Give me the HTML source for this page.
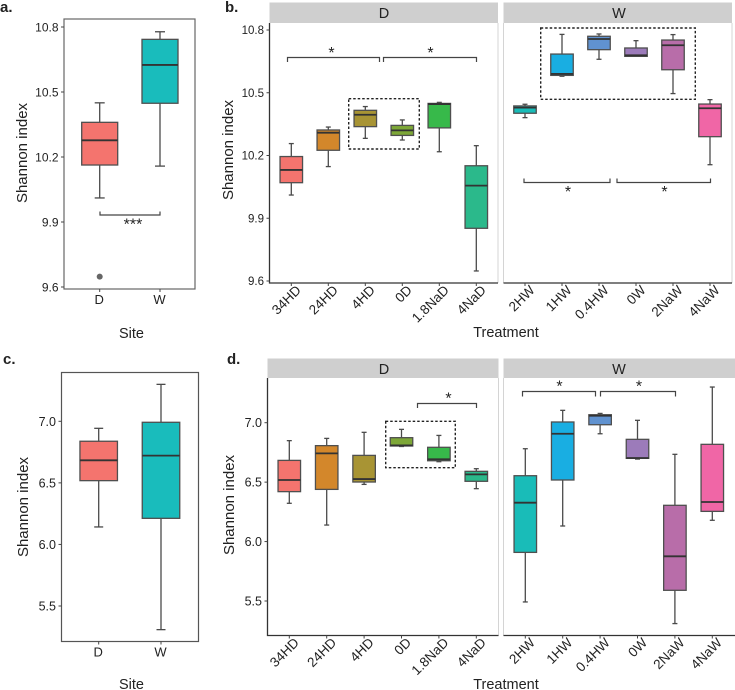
<!DOCTYPE html>
<html lang="en">
<head>
<meta charset="utf-8">
<title>Shannon index boxplots</title>
<style>
html,body{margin:0;padding:0;background:#fff;width:735px;height:690px;overflow:hidden}
svg{display:block;font-family:"Liberation Sans",Arial,sans-serif}
text{fill:#222}
</style>
</head>
<body>
<svg id="fig" width="735" height="690" viewBox="0 0 735 690" xmlns="http://www.w3.org/2000/svg">
  <rect x="0" y="0" width="735" height="690" fill="#fff"/>
  <!-- panel letters -->
  <text x="0" y="12" font-size="15" font-weight="bold" fill="#111">a.</text>
  <text x="225" y="12" font-size="15" font-weight="bold" fill="#111">b.</text>
  <text x="3" y="364" font-size="15" font-weight="bold" fill="#111">c.</text>
  <text x="227" y="364" font-size="15" font-weight="bold" fill="#111">d.</text>

  <!-- frames -->
  <rect x="64" y="19" width="131" height="270" fill="none" stroke="#666" stroke-width="1.2"/>
  <rect x="61.5" y="372.5" width="137" height="269" fill="none" stroke="#555" stroke-width="1.2"/>

  <!-- strips -->
  <rect x="269.5" y="2.5" width="228.5" height="20.5" fill="#cfcfcf"/>
  <rect x="503.5" y="2.5" width="228.5" height="20.5" fill="#cfcfcf"/>
  <rect x="267.5" y="358.5" width="231" height="19.5" fill="#cfcfcf"/>
  <rect x="503.5" y="358.5" width="231.5" height="19.5" fill="#cfcfcf"/>
  <text x="384" y="18" font-size="14.5" text-anchor="middle">D</text>
  <text x="619" y="18" font-size="14.5" text-anchor="middle">W</text>
  <text x="384" y="374" font-size="14.5" text-anchor="middle">D</text>
  <text x="619" y="374" font-size="14.5" text-anchor="middle">W</text>

  <!-- facet borders and axes -->
  <g fill="none">
    <path d="M498 23V283M503.5 23V283M732 23V283" stroke="#d4d4d4" stroke-width="1"/>
    <path d="M269.5 23V283H498M503.5 283H732" stroke="#333" stroke-width="1.3"/>
  </g>
  <g fill="none">
    <path d="M498.5 378V635.5M503.5 378V635.5" stroke="#d4d4d4" stroke-width="1"/>
    <path d="M267.5 378V635.5H498.5M503.5 635.5H735" stroke="#333" stroke-width="1.3"/>
  </g>

  <g id="marks"></g>

  <!-- axis titles -->
  <text transform="translate(27,153) rotate(-90)" font-size="15" text-anchor="middle">Shannon index</text>
  <text transform="translate(233,150) rotate(-90)" font-size="15" text-anchor="middle">Shannon index</text>
  <text transform="translate(28,507) rotate(-90)" font-size="15" text-anchor="middle">Shannon index</text>
  <text transform="translate(234,505) rotate(-90)" font-size="15" text-anchor="middle">Shannon index</text>
  <text x="131.5" y="338" font-size="14.5" text-anchor="middle">Site</text>
  <text x="131.5" y="689" font-size="14.5" text-anchor="middle">Site</text>
  <text x="506" y="337" font-size="14.5" text-anchor="middle">Treatment</text>
  <text x="506" y="689" font-size="14.5" text-anchor="middle">Treatment</text>

  <!-- significance brackets -->
  <g fill="none" stroke="#444" stroke-width="1.2">
    <path d="M100 211.5V215H160V211.5"/>
    <path d="M287.5 62V57.5H379.5V62"/>
    <path d="M383.5 62V57.5H476.5V62"/>
    <path d="M524 178.5V182.5H610V178.5"/>
    <path d="M617 178.5V182.5H710.5V178.5"/>
    <path d="M417.5 408V403.5H476.5V408"/>
    <path d="M522.5 396.5V391.5H595.5V396.5"/>
    <path d="M600.5 396.5V391.5H675.5V396.5"/>
  </g>
  <g font-size="16" text-anchor="middle" fill="#111">
    <text x="133" y="229.5">***</text>
    <text x="331.5" y="58">*</text>
    <text x="430.5" y="58">*</text>
    <text x="568" y="197">*</text>
    <text x="664.5" y="197">*</text>
    <text x="448.5" y="403.7">*</text>
    <text x="559.5" y="391.4">*</text>
    <text x="639" y="391.4">*</text>
  </g>

  <!-- dashed highlight boxes -->
  <g fill="none" stroke="#222" stroke-width="1.4" stroke-dasharray="2.5 2">
    <rect x="348.7" y="98.7" width="70.6" height="50.3"/>
    <rect x="540.7" y="28" width="154.6" height="71.3"/>
    <rect x="385.7" y="421.3" width="69.6" height="46.4"/>
  </g>
</svg>

<script>
// ---- chart data ----
const siteCategories = ['D', 'W'];
const dryTreatments = ['34HD', '24HD', '4HD', '0D', '1.8NaD', '4NaD'];
const wetTreatments = ['2HW', '1HW', '0.4HW', '0W', '2NaW', '4NaW'];

const ticksBacterial = ['9.6', '9.9', '10.2', '10.5', '10.8'];
const ticksFungal = ['5.5', '6.0', '6.5', '7.0'];

const siteColors = ['#f4746e', '#19bcbc'];
const dryColors = ['#f4746e', '#d3872b', '#a89434', '#7da737', '#37b94a', '#2bb98b'];
const wetColors = ['#19bcb8', '#19aee2', '#6092d0', '#9c7bba', '#b86da9', '#f066a6'];

// panel a
const aLow = [10.011, 10.158];
const aQ1 = [10.163, 10.448];
const aMedian = [10.277, 10.625];
const aQ3 = [10.36, 10.743];
const aHigh = [10.45, 10.778];
const aOutliers = [9.648];

// panel b, D
const bdLow = [10.011, 10.147, 10.282, 10.274, 10.218, 9.648];
const bdQ1 = [10.07, 10.225, 10.338, 10.296, 10.332, 9.852];
const bdMedian = [10.131, 10.309, 10.395, 10.32, 10.446, 10.056];
const bdQ3 = [10.195, 10.322, 10.416, 10.344, 10.449, 10.151];
const bdHigh = [10.257, 10.336, 10.434, 10.37, 10.454, 10.247];

// panel b, W
const bwLow = [10.381, 10.579, 10.66, 10.674, 10.496, 10.156];
const bwQ1 = [10.402, 10.583, 10.706, 10.674, 10.61, 10.29];
const bwMedian = [10.429, 10.59, 10.757, 10.679, 10.727, 10.426];
const bwQ3 = [10.437, 10.685, 10.77, 10.714, 10.752, 10.446];
const bwHigh = [10.445, 10.779, 10.781, 10.749, 10.778, 10.467];

// panel c
const cLow = [6.142, 5.308];
const cQ1 = [6.518, 6.212];
const cMedian = [6.683, 6.721];
const cQ3 = [6.838, 6.992];
const cHigh = [6.943, 7.30];

// panel d, D
const ddLow = [6.322, 6.139, 6.481, 6.80, 6.672, 6.445];
const ddQ1 = [6.42, 6.439, 6.501, 6.804, 6.68, 6.507];
const ddMedian = [6.518, 6.742, 6.526, 6.809, 6.692, 6.565];
const ddQ3 = [6.683, 6.807, 6.725, 6.874, 6.793, 6.591];
const ddHigh = [6.849, 6.868, 6.919, 6.944, 6.893, 6.613];

// panel d, W
const dwLow = [5.492, 6.131, 6.907, 6.694, 5.31, 6.179];
const dwQ1 = [5.909, 6.518, 6.983, 6.70, 5.59, 6.254];
const dwMedian = [6.327, 6.907, 7.059, 6.703, 5.876, 6.333];
const dwQ3 = [6.554, 7.006, 7.067, 6.86, 6.305, 6.818];
const dwHigh = [6.781, 7.104, 7.078, 7.02, 6.734, 7.30];

// ---- axis functions ----
function linear(v0, p0, v1, p1) {
  return function (v) { return p0 + (v - v0) * (p1 - p0) / (v1 - v0); };
}
function band(start, step) {
  return function (i) { return start + i * step; };
}
const yA = linear(9.6, 287, 10.8, 27);
const yB = linear(9.6, 281, 10.8, 30);
const yC = linear(5.5, 606, 7.0, 421.3);
const yD = linear(5.5, 601, 7.0, 422.7);
const xA = band(99.7, 60.3);
const xBD = band(291.3, 37);
const xBW = band(525, 37);
const xC = band(98.7, 62.3);
const xDD = band(289.3, 37.4);
const xDW = band(525.3, 37.4);

// ---- drawing helpers ----
const NS = 'http://www.w3.org/2000/svg';
const marks = document.getElementById('marks');
function add(parent, tag, attrs, name) {
  const el = document.createElementNS(NS, tag);
  for (const k in attrs) el.setAttribute(k, attrs[k]);
  
  
  parent.appendChild(el);
  return el;
}
function line(parent, x1, y1, x2, y2, stroke, width, name) {
  return add(parent, 'line', { x1: x1, y1: y1, x2: x2, y2: y2, stroke: stroke, 'stroke-width': width }, name);
}

function drawYAxis(panel, axisX, y, labels, fontSize) {
  labels.forEach(function (label) {
    const p = y(parseFloat(label));
    line(marks, axisX - 3, p, axisX, p, '#444', 1, panel + '-y-tick-' + label);
    const t = add(marks, 'text', { x: axisX - 5.5, y: p + fontSize * 0.36, 'font-size': fontSize, 'text-anchor': 'end' }, panel + '-y-label-' + label);
    t.textContent = label;
  });
}
function drawXUpright(panel, axisY, x, cats) {
  cats.forEach(function (c, i) {
    line(marks, x(i), axisY, x(i), axisY + 3, '#444', 1, panel + '-x-tick-' + c);
    const t = add(marks, 'text', { x: x(i) - 0.5, y: axisY + 15, 'font-size': 13, 'text-anchor': 'middle' }, panel + '-x-label-' + c);
    t.textContent = c;
  });
}
function drawXRotated(panel, axisY, x, cats) {
  cats.forEach(function (c, i) {
    line(marks, x(i), axisY, x(i), axisY + 3, '#444', 1, panel + '-x-tick-' + c);
    const lx = x(i) + 10.5, ly = axisY + 8;
    const t = add(marks, 'text', { transform: 'translate(' + lx + ',' + ly + ') rotate(-45)', 'font-size': 13.5, 'text-anchor': 'end' }, panel + '-x-label-' + c);
    t.textContent = c;
  });
}
function drawBoxes(panel, x, y, cats, colors, low, q1, med, q3, high, boxWidth, capWidth) {
  cats.forEach(function (c, i) {
    const g = add(marks, 'g', {}, panel + '-box-' + c);
    const cx = x(i);
    line(g, cx, y(low[i]), cx, y(high[i]), '#4a4a4a', 1.3, 'whisker');
    line(g, cx - capWidth / 2, y(low[i]), cx + capWidth / 2, y(low[i]), '#4a4a4a', 1.3, 'whisker-cap-low');
    line(g, cx - capWidth / 2, y(high[i]), cx + capWidth / 2, y(high[i]), '#4a4a4a', 1.3, 'whisker-cap-high');
    add(g, 'rect', {
      x: cx - boxWidth / 2, y: y(q3[i]), width: boxWidth, height: y(q1[i]) - y(q3[i]),
      fill: colors[i], stroke: '#4f4f4f', 'stroke-width': 1.3
    }, 'interquartile-box');
    line(g, cx - boxWidth / 2, y(med[i]), cx + boxWidth / 2, y(med[i]), '#333', 1.8, 'median');
  });
}

// ---- render ----
drawBoxes('a', xA, yA, siteCategories, siteColors, aLow, aQ1, aMedian, aQ3, aHigh, 36, 10);
aOutliers.forEach(function (v) {
  add(marks, 'circle', { cx: xA(0), cy: yA(v), r: 3, fill: '#666' }, 'a-outlier');
});
drawYAxis('a', 64, yA, ticksBacterial, 12);
drawXUpright('a', 289, xA, siteCategories);

drawBoxes('b-d', xBD, yB, dryTreatments, dryColors, bdLow, bdQ1, bdMedian, bdQ3, bdHigh, 22.5, 5);
drawBoxes('b-w', xBW, yB, wetTreatments, wetColors, bwLow, bwQ1, bwMedian, bwQ3, bwHigh, 22.5, 5);
drawYAxis('b', 269.5, yB, ticksBacterial, 11.5);
drawXRotated('b-d', 283, xBD, dryTreatments);
drawXRotated('b-w', 283, xBW, wetTreatments);

drawBoxes('c', xC, yC, siteCategories, siteColors, cLow, cQ1, cMedian, cQ3, cHigh, 37.5, 9);
drawYAxis('c', 61.5, yC, ticksFungal, 12.5);
drawXUpright('c', 641.5, xC, siteCategories);

drawBoxes('d-d', xDD, yD, dryTreatments, dryColors, ddLow, ddQ1, ddMedian, ddQ3, ddHigh, 22.5, 5);
drawBoxes('d-w', xDW, yD, wetTreatments, wetColors, dwLow, dwQ1, dwMedian, dwQ3, dwHigh, 22.5, 5);
drawYAxis('d', 267.5, yD, ticksFungal, 12.5);
drawXRotated('d-d', 635.5, xDD, dryTreatments);
drawXRotated('d-w', 635.5, xDW, wetTreatments);
</script>
</body>
</html>
